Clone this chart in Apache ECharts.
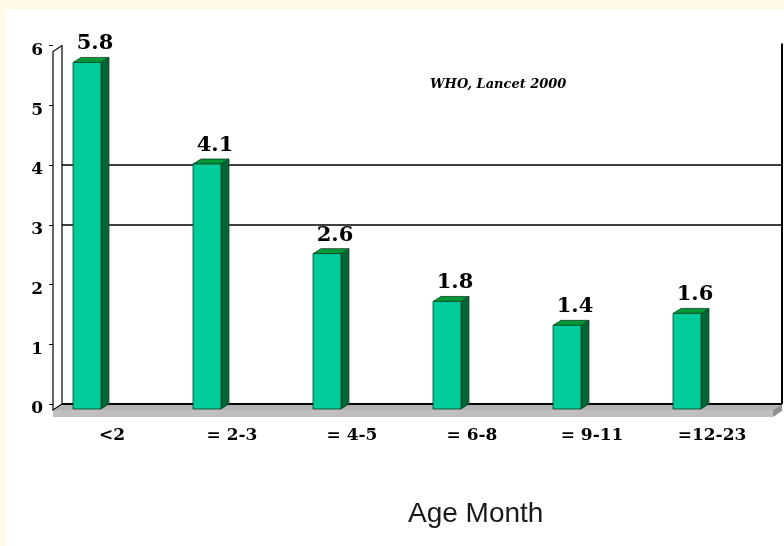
<!DOCTYPE html>
<html>
<head>
<meta charset="utf-8">
<script src="https://cdn.jsdelivr.net/npm/echarts/dist/echarts.min.js"></script>
<style>
  html, body { margin: 0; padding: 0; background: #fffbe6; }
  #chart { width: 784px; height: 546px; }
</style>
</head>
<body>
<div id="chart"></div>
<script>
// ---- data ----
const categories = ['<2', '= 2-3', '= 4-5', '= 6-8', '= 9-11', '=12-23'];
const values = [5.8, 4.1, 2.6, 1.8, 1.4, 1.6];
const yTickValues = { min: 0, max: 6, interval: 1 };
const gridLineValues = [3, 4];
const sourceNote = 'WHO, Lancet 2000';
const axisTitle = 'Age Month';

// ---- styles ----
const BAR_DX = 8, BAR_DY = 5;     // bar depth offset
const WALL_DX = 9, WALL_DY = 6;   // wall/floor depth offset
const FLOOR_H = 7;

const chart = echarts.init(document.getElementById('chart'), null, { renderer: 'canvas' });

function renderBar(params, api) {
  const idx = api.value(0);
  const top = api.coord([idx, api.value(1)]);
  const base = api.coord([idx, 0]);
  const band = api.size([1, 0])[0];
  const w = band * 0.233;
  const cx = top[0] - band * 0.225;
  const xL = cx - w / 2, xR = cx + w / 2;
  const yT = top[1], yB = base[1];
  const stroke = '#123d2c';
  return {
    type: 'group',
    children: [
      { type: 'polygon', shape: { points: [[xR, yT], [xR, yB], [xR - BAR_DX, yB + BAR_DY], [xR - BAR_DX, yT + BAR_DY]] },
        style: { fill: '#006633', stroke: stroke, lineWidth: 0.8 } },
      { type: 'polygon', shape: { points: [[xL, yT], [xR, yT], [xR - BAR_DX, yT + BAR_DY], [xL - BAR_DX, yT + BAR_DY]] },
        style: { fill: '#009933', stroke: stroke, lineWidth: 0.8 } },
      { type: 'rect', shape: { x: xL - BAR_DX, y: yT + BAR_DY, width: w, height: yB - yT },
        style: { fill: '#00cc99', stroke: stroke, lineWidth: 0.8 } },
      { type: 'text', x: cx, y: yT - 3,
        style: { text: String(api.value(1)), align: 'center', verticalAlign: 'bottom',
                 font: 'bold 21px "DejaVu Serif"', fill: '#000' } }
    ]
  };
}

function renderFrame(params, api) {
  const cs = params.coordSys;
  const x0 = cs.x, y0 = cs.y, w = cs.width, yb = cs.y + cs.height;
  return {
    type: 'group',
    children: [
      // floor top
      { type: 'polygon', shape: { points: [[x0 - WALL_DX, yb + WALL_DY], [x0, yb], [x0 + w, yb], [x0 + w - WALL_DX, yb + WALL_DY]] },
        style: { fill: '#b4b4b4' } },
      // floor front
      { type: 'rect', shape: { x: x0 - WALL_DX, y: yb + WALL_DY, width: w, height: FLOOR_H },
        style: { fill: '#bfbfbf' } },
      // floor right end
      { type: 'polygon', shape: { points: [[x0 + w - WALL_DX, yb + WALL_DY], [x0 + w, yb], [x0 + w, yb + FLOOR_H], [x0 + w - WALL_DX, yb + WALL_DY + FLOOR_H]] },
        style: { fill: '#8f8f8f' } },
      // back edge of floor
      { type: 'line', shape: { x1: x0, y1: yb, x2: x0 + w, y2: yb }, style: { stroke: '#000', lineWidth: 2 } },
      // left wall
      { type: 'polygon', shape: { points: [[x0 - WALL_DX, yb + WALL_DY], [x0 - WALL_DX, y0 + WALL_DY], [x0, y0], [x0, yb]] },
        style: { fill: '#fff', stroke: '#000', lineWidth: 1.2 } },
      // right wall edge
      { type: 'line', shape: { x1: x0 + w, y1: y0 - 2, x2: x0 + w, y2: yb }, style: { stroke: '#000', lineWidth: 2 } }
    ]
  };
}

const numFont = 'DejaVu Serif';

const option = {
  backgroundColor: '#fffbe6',
  animation: false,
  graphic: [
    { type: 'rect', left: 6, top: 10, shape: { width: 778, height: 536 }, style: { fill: '#ffffff' }, z: -10 }
  ],
  title: [
    { text: sourceNote, left: 430, top: 78, padding: 0,
      textStyle: { fontFamily: numFont, fontStyle: 'italic', fontWeight: 'bold', fontSize: 13, color: '#000' } },
    { text: axisTitle, left: 408, top: 500, padding: 0,
      textStyle: { fontFamily: 'Liberation Sans', fontWeight: 'normal', fontSize: 28, color: '#1a1a1a' } }
  ],
  grid: { left: 62, right: 2, top: 45.5, bottom: 142, containLabel: false },
  xAxis: {
    type: 'category',
    data: categories,
    axisLine: { show: false },
    axisTick: { show: false },
    splitLine: { show: false },
    axisLabel: { margin: 23, fontFamily: numFont, fontWeight: 'bold', fontSize: 17, color: '#000', padding: [0, 20, 0, 0], interval: 0 }
  },
  yAxis: [
    {
      type: 'value', min: yTickValues.min, max: yTickValues.max, interval: yTickValues.interval,
      axisLine: { show: false }, axisTick: { show: false }, splitLine: { show: false },
      axisLabel: {
        margin: 19, formatter: '{v|{value}}',
        rich: { v: { fontFamily: numFont, fontWeight: 'bold', fontSize: 17, color: '#000', padding: [10, 0, 0, 0] } }
      }
    },
    {
      type: 'value', min: yTickValues.min, max: yTickValues.max, interval: yTickValues.interval,
      position: 'left', offset: WALL_DX,
      axisLine: { show: false }, axisTick: { show: true, length: 4, lineStyle: { color: '#000' } },
      splitLine: { show: false }, axisLabel: { show: false }
    }
  ],
  series: [
    {
      type: 'custom', name: 'frame', renderItem: renderFrame, data: [[0, 0]], z: 1, silent: true,
      markLine: {
        silent: true, symbol: 'none', label: { show: false },
        lineStyle: { color: '#000', type: 'solid', width: 1.5 },
        data: gridLineValues.map(v => ({ yAxis: v }))
      }
    },
    {
      type: 'custom', name: 'bars', renderItem: renderBar, z: 5,
      encode: { x: 0, y: 1 },
      data: values.map((v, i) => [i, v])
    }
  ]
};

chart.setOption(option);
</script>
</body>
</html>
